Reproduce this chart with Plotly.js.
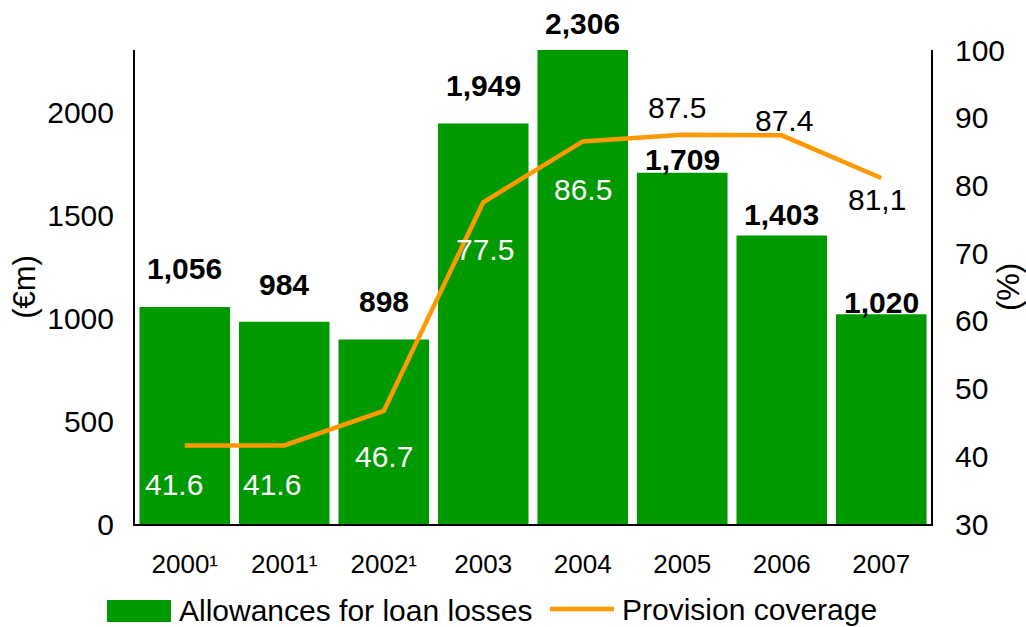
<!DOCTYPE html>
<html>
<head>
<meta charset="utf-8">
<script src="https://cdn.plot.ly/plotly-3.0.1.min.js"></script>
<style>
  html, body { margin: 0; padding: 0; background: #ffffff; }
  #chart { width: 1026px; height: 627px; }
</style>
</head>
<body>
<div id="chart"></div>
<script>
// ---------------- data ----------------
const categories = ['2000\u00B9', '2001\u00B9', '2002\u00B9', '2003', '2004', '2005', '2006', '2007'];
const allowances = [1056, 984, 898, 1949, 2306, 1709, 1403, 1020];           // € m
const coverage = [41.6, 41.6, 46.7, 77.5, 86.5, 87.5, 87.4, 81.1];           // %
const coverageLabels = ['41.6', '41.6', '46.7', '77.5', '86.5', '87.5', '87.4', '81,1'];
const leftTicks = [0, 500, 1000, 1500, 2000];
const rightTicks = [30, 40, 50, 60, 70, 80, 90, 100];
const seriesNames = ['Allowances for loan losses', 'Provision coverage'];
const leftTitle = '(\u20ACm)';
const rightTitle = '(%)';

// ---------------- style ----------------
const GREEN = '#009900';
const ORANGE = '#FF9900';
const FONT = "'Liberation Sans', Arial, sans-serif";

// label offsets (px) – styling only
const barLabelLift = [38, 37.5, 37.5, 37.5, 26.5, 13.5, 21, 12];
const covLabelDx = [-11, -12, 0, 2, 0, -5, 2, -4];
const covLabelDy = [-39.5, -39.5, -46, -47.6, -48, 27, 15, -22];
const covLabelColor = ['#ffffff', '#ffffff', '#ffffff', '#ffffff', '#ffffff', '#000000', '#000000', '#000000'];

// plot-area pixel frame
const W = 1026, H = 627;
const PL = 135, PR = 931, PT = 50, PB = 524;
const px2x = p => (p - PL) / (PR - PL);
const py2y = p => (PB - p) / (PB - PT);

const bars = {
  type: 'bar',
  x: categories,
  y: allowances,
  name: seriesNames[0],
  marker: { color: GREEN, line: { width: 0 } },
  hoverinfo: 'x+y'
};

const line = {
  type: 'scatter',
  mode: 'lines',
  x: categories,
  y: coverage,
  yaxis: 'y2',
  name: seriesNames[1],
  line: { color: ORANGE, width: 4.5, shape: 'linear' },
  hoverinfo: 'x+y'
};

const annotations = [];
categories.forEach((c, i) => {
  // category axes take the serial index for annotation positions
  annotations.push({
    x: i, y: allowances[i], xref: 'x', yref: 'y',
    text: allowances[i].toLocaleString('en-US'),
    showarrow: false, yanchor: 'middle', xanchor: 'center',
    yshift: barLabelLift[i],
    font: { family: FONT, size: 30, color: '#000000', weight: 'bold' }
  });
  annotations.push({
    x: i, y: coverage[i], xref: 'x', yref: 'y2',
    text: coverageLabels[i],
    showarrow: false, yanchor: 'middle', xanchor: 'center',
    xshift: covLabelDx[i], yshift: covLabelDy[i],
    font: { family: FONT, size: 30, color: covLabelColor[i] }
  });
});

// custom legend
annotations.push({
  xref: 'paper', yref: 'paper', x: px2x(177), y: py2y(610),
  xanchor: 'left', yanchor: 'middle', showarrow: false,
  text: seriesNames[0], font: { family: FONT, size: 30, color: '#000000' }
});
annotations.push({
  xref: 'paper', yref: 'paper', x: px2x(620), y: py2y(609),
  xanchor: 'left', yanchor: 'middle', showarrow: false,
  text: seriesNames[1], font: { family: FONT, size: 30, color: '#000000' }
});

const shapes = [
  { type: 'rect', xref: 'paper', yref: 'paper',
    x0: px2x(107), x1: px2x(171), y0: py2y(622), y1: py2y(600),
    fillcolor: GREEN, line: { width: 0 } },
  { type: 'line', xref: 'paper', yref: 'paper',
    x0: px2x(550), x1: px2x(614), y0: py2y(609), y1: py2y(609),
    line: { color: ORANGE, width: 4.5 } }
];

const layout = {
  width: W, height: H,
  margin: { l: PL, r: W - PR, t: PT, b: H - PB, pad: 0 },
  paper_bgcolor: '#ffffff', plot_bgcolor: '#ffffff',
  showlegend: false,
  bargap: 0.09,
  font: { family: FONT, color: '#000000' },
  xaxis: {
    type: 'category',
    range: [-0.5, categories.length - 0.5],
    showline: true, linecolor: '#000000', linewidth: 2,
    showgrid: false, zeroline: false, ticks: '',
    ticklabelstandoff: 16,
    tickfont: { family: FONT, size: 26, color: '#000000' },
    fixedrange: true
  },
  yaxis: {
    range: [0, 2306],
    tickvals: leftTicks,
    ticktext: leftTicks.map(String),
    showline: true, linecolor: '#000000', linewidth: 2,
    showgrid: false, zeroline: false, ticks: '',
    ticklabelstandoff: 13,
    tickfont: { family: FONT, size: 30, color: '#000000' },
    title: { text: leftTitle, font: { family: FONT, size: 31, color: '#000000' }, standoff: 2 },
    fixedrange: true
  },
  yaxis2: {
    overlaying: 'y', side: 'right',
    range: [30, 100],
    tickvals: rightTicks,
    ticktext: rightTicks.map(String),
    showline: true, linecolor: '#000000', linewidth: 2,
    showgrid: false, zeroline: false, ticks: '',
    ticklabelstandoff: 16,
    tickfont: { family: FONT, size: 30, color: '#000000' },
    title: { text: rightTitle, font: { family: FONT, size: 31, color: '#000000' }, standoff: 0 },
    fixedrange: true
  },
  annotations: annotations,
  shapes: shapes
};

Plotly.newPlot('chart', [bars, line], layout, { displayModeBar: false, staticPlot: true });
</script>
</body>
</html>
